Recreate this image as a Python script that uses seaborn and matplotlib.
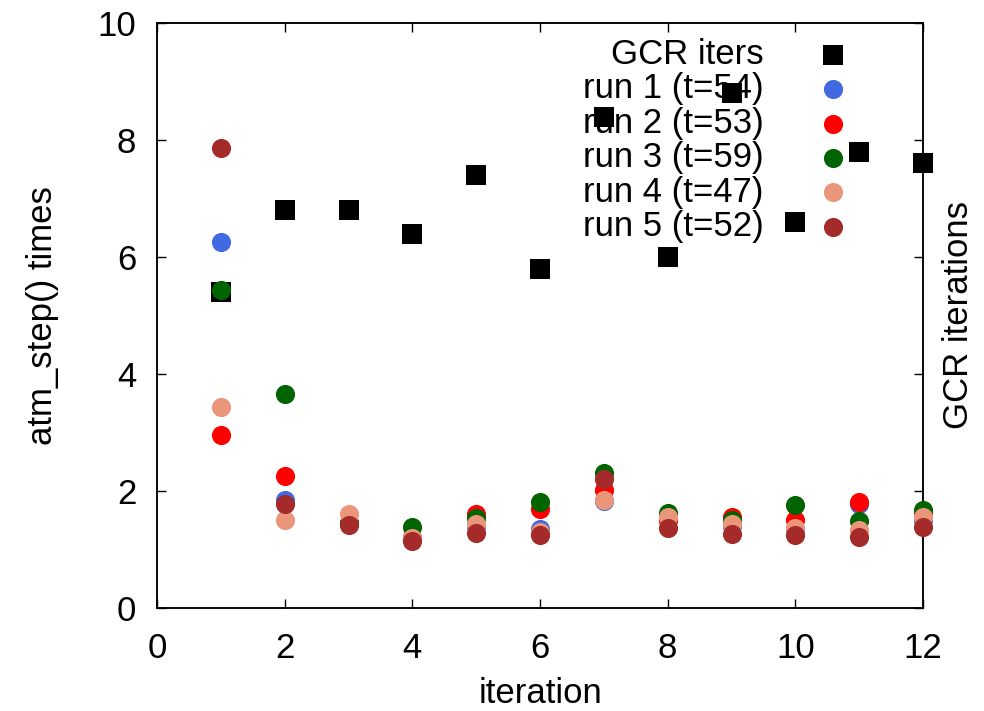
import matplotlib
matplotlib.use("Agg")
import matplotlib.pyplot as plt
import seaborn as sns

# values
iterations = [1, 2, 3, 4, 5, 6, 7, 8, 9, 10, 11, 12]
gcr_iters = [5.4, 6.8, 6.8, 6.4, 7.4, 5.8, 8.4, 6.0, 8.8, 6.6, 7.8, 7.6]
run1 = [6.25, 1.85, 1.45, 1.20, 1.40, 1.35, 1.83, 1.50, 1.40, 1.35, 1.77, 1.50]
run2 = [2.96, 2.25, 1.45, 1.20, 1.61, 1.70, 2.02, 1.50, 1.55, 1.51, 1.82, 1.62]
run3 = [5.43, 3.65, 1.45, 1.39, 1.54, 1.82, 2.31, 1.63, 1.50, 1.76, 1.49, 1.68]
run4 = [3.44, 1.50, 1.60, 1.20, 1.44, 1.30, 1.84, 1.56, 1.44, 1.37, 1.33, 1.55]
run5 = [7.87, 1.77, 1.41, 1.15, 1.29, 1.25, 2.20, 1.36, 1.27, 1.25, 1.22, 1.39]

runs = [run1, run2, run3, run4, run5]
run_labels = ['run 1 (t=54)', 'run 2 (t=53)', 'run 3 (t=59)', 'run 4 (t=47)', 'run 5 (t=52)']
run_colors = ['#4169e1', '#ff0000', '#006400', '#e9967a', '#a52a2a']

sns.set_style("ticks")
plt.rcParams['font.family'] = ['Liberation Sans', 'DejaVu Sans']
plt.rcParams.update({'font.size': 25, 'text.color': 'black',
                     'axes.labelcolor': 'black', 'xtick.color': 'black',
                     'ytick.color': 'black', 'axes.edgecolor': 'black'})

fig, ax = plt.subplots(figsize=(9.84, 7.11), dpi=100)
fig.subplots_adjust(left=0.1596, right=0.938, top=0.9677, bottom=0.1449)

sns.scatterplot(x=iterations, y=gcr_iters, marker='s', color='black', s=190,
                linewidth=0, ax=ax, label='GCR iters', clip_on=False, zorder=3)
for vals, lab, col in zip(runs, run_labels, run_colors):
    sns.scatterplot(x=iterations, y=vals, marker='o', color=col, s=190,
                    linewidth=0, ax=ax, label=lab, clip_on=False, zorder=3)

ax.set_xlim(0, 12)
ax.set_ylim(0, 10)
ax.set_xticks(range(0, 13, 2))
ax.set_yticks(range(0, 11, 2))
ax.tick_params(direction='in', length=6.5, width=1, top=True, right=False)
ax.tick_params(axis='x', pad=17.5)
ax.tick_params(axis='y', pad=15)
for sp in ax.spines.values():
    sp.set_linewidth(1.1)

ax.set_xlabel('iteration', labelpad=8.5)
ax.set_ylabel('atm_step() times', labelpad=28)

ax2 = ax.twinx()
ax2.set_ylim(0, 10)
ax2.set_yticks(range(0, 11, 2))
ax2.tick_params(direction='in', length=6.5, width=1, labelright=False)
ax2.set_ylabel('GCR iterations', labelpad=14)
for sp in ax2.spines.values():
    sp.set_linewidth(1.1)
ax2.set_zorder(-1)
ax.patch.set_visible(False)

ax.legend(loc='upper right', bbox_to_anchor=(0.946, 0.998), frameon=False,
          markerfirst=False, labelspacing=0.04, handletextpad=1.0,
          borderaxespad=0, scatterpoints=1)

fig.savefig('out.png', dpi=100)
plt.close(fig)
